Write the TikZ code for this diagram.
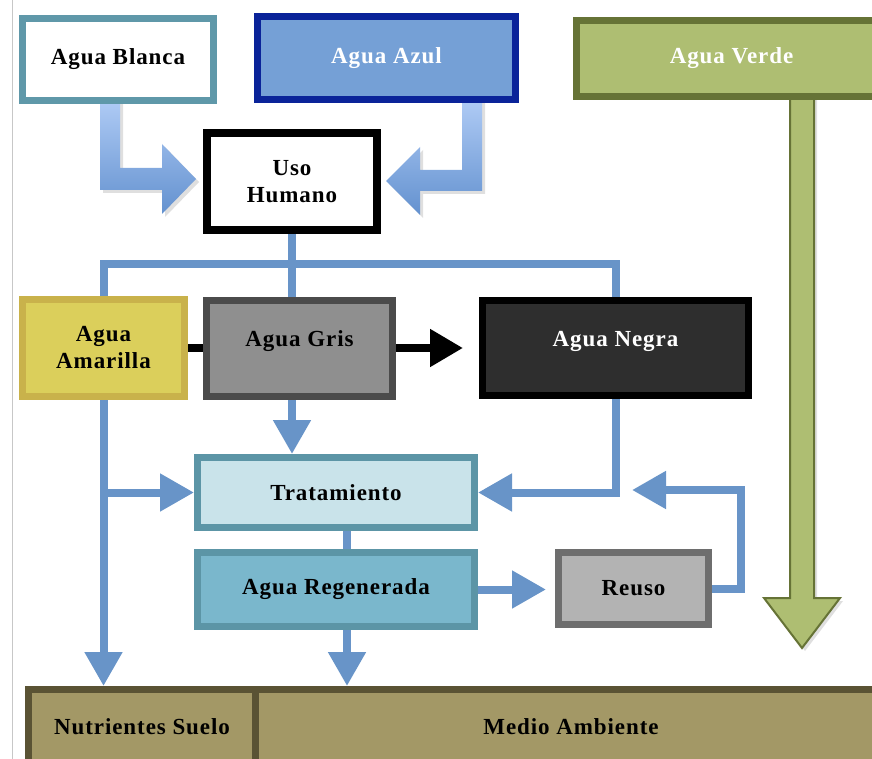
\documentclass[tikz,border=0pt]{standalone}
\usepackage{fontspec}
\setmainfont{Liberation Serif}[LetterSpace=4]
\usetikzlibrary{arrows.meta,shadows}
\pgfdeclarelayer{bg}
\pgfsetlayers{bg,main}
\definecolor{cBlancaB}{HTML}{5F98A9}
\definecolor{cAzulF}{HTML}{75A0D6}
\definecolor{cAzulB}{HTML}{0A2399}
\definecolor{cVerdeF}{HTML}{AEBE72}
\definecolor{cVerdeB}{HTML}{667336}
\definecolor{cAmaF}{HTML}{DBCF5B}
\definecolor{cAmaB}{HTML}{C9B24B}
\definecolor{cGrisF}{HTML}{8F8F8F}
\definecolor{cGrisB}{HTML}{4B4B4B}
\definecolor{cNegraF}{HTML}{2E2E2E}
\definecolor{cTratF}{HTML}{C9E3EA}
\definecolor{cTealB}{HTML}{5C95A6}
\definecolor{cRegenF}{HTML}{7AB7CC}
\definecolor{cReusoF}{HTML}{B3B3B3}
\definecolor{cReusoB}{HTML}{6E6E6E}
\definecolor{cBarF}{HTML}{A39866}
\definecolor{cBarB}{HTML}{5A5334}
\definecolor{cConn}{HTML}{6894C8}
\definecolor{cArrTop}{HTML}{AFCBF5}
\definecolor{cArrBot}{HTML}{6391CF}
\begin{document}
\begin{tikzpicture}[x=1pt,y=-1pt,
  box/.style={rectangle, inner sep=0pt, line width=7pt, align=center,
    font=\bfseries\fontsize{23}{27}\selectfont},
  conn/.style={line width=8pt, draw=cConn},
  tipb/.style={-{Triangle[width=36pt,length=34pt]}},
  softshadow/.style={drop shadow={opacity=0.25, shadow xshift=3pt, shadow yshift=-3pt}},
]
\useasboundingbox (0,0) rectangle (872,759);

% boxes
\node[box, draw=cBlancaB, fill=white, minimum width=191pt, minimum height=82pt] (blanca) at (118,59.5) {\raisebox{2pt}{Agua Blanca}};
\node[box, draw=cAzulB, fill=cAzulF, text=white, minimum width=258pt, minimum height=83pt] (azul) at (386.5,58) {Agua Azul};
\node[box, draw=cVerdeB, fill=cVerdeF, text=white, minimum width=310pt, minimum height=76pt] (verde) at (731.5,58.5) {Agua Verde};
\node[box, line width=8pt, draw=black, fill=white, minimum width=170pt, minimum height=97pt] (uso) at (292,181.5) {Uso\\Humano};
\node[box, draw=cAmaB, fill=cAmaF, minimum width=162pt, minimum height=97pt] (amarilla) at (103.5,348) {Agua\\Amarilla};
\node[box, draw=cGrisB, fill=cGrisF, minimum width=186pt, minimum height=96pt] (gris) at (299.5,348.5) {\raisebox{2.5pt}[0pt][0pt]{Agua Gris}};
\node[box, draw=black, fill=cNegraF, text=white, minimum width=266pt, minimum height=95pt] (negra) at (615.5,348) {\raisebox{2pt}[0pt][0pt]{Agua Negra}};
\node[box, draw=cTealB, fill=cTratF, minimum width=277pt, minimum height=70pt] (trat) at (336,492.5) {Tratamiento};
\node[box, draw=cTealB, fill=cRegenF, minimum width=277pt, minimum height=74pt] (regen) at (336,589.5) {Agua Regenerada};
\node[box, draw=cReusoB, fill=cReusoF, minimum width=150pt, minimum height=72pt] (reuso) at (633.5,588.5) {Reuso};
\node[box, draw=cBarB, fill=cBarF, minimum width=227pt, minimum height=75pt] (suelo) at (142,727) {Nutrientes Suelo};
\node[box, draw=cBarB, fill=cBarF, minimum width=631pt, minimum height=75pt] (medio) at (571,727) {Medio Ambiente};

\coordinate (fbc) at (741,490);
\coordinate (fbt) at (632,490);

\begin{pgfonlayer}{bg}
\fill[white] (0,0) rectangle (872,759);
\draw[line width=1pt, draw=black!22] (12,0) -- (12,759);

% block arrows into Uso Humano
\path[softshadow, top color=cArrTop, bottom color=cArrBot]
  (100,100) -- (100,190) -- (162,190) -- (162,214) -- (196,179) -- (162,144)
  -- (162,168) -- (120,168) -- (120,100) -- cycle;
\path[softshadow, top color=cArrTop, bottom color=cArrBot]
  (482,100) -- (482,191) -- (420,191) -- (420,215) -- (386,181) -- (420,147)
  -- (420,170) -- (462,170) -- (462,100) -- cycle;

% green arrow
\path[softshadow, fill=cVerdeF, draw=cVerdeB, line width=2pt]
  (790,96) -- (790,598) -- (764,598) -- (802,648) -- (840,598) -- (814,598)
  -- (814,96) -- cycle;

% connectors
\draw[conn] (uso.south) -- (uso.south |- gris.north);
\draw[conn] (amarilla.north) -- ++(0,-32) -| (negra.north);
\draw[conn,tipb] (amarilla.south) -- (amarilla.south |- suelo.north);
\draw[conn,tipb] (amarilla.south |- trat.west) -- (trat.west);
\draw[conn,tipb] (gris.south -| uso.south) -- (trat.north -| uso.south);
\draw[conn,tipb] (negra.south) |- (trat.east);
\draw[conn] ([xshift=11pt]trat.south) -- ([xshift=11pt]regen.north);
\draw[conn,tipb] ([xshift=11pt]regen.south) -- ([xshift=11pt]regen.south |- medio.north);
\draw[conn,tipb,shorten >=9pt] (regen.east) -- (regen.east -| reuso.west);
\draw[conn,tipb] (reuso.east) -| (fbc) -- (fbt);
\draw[line width=8pt, -{Triangle[width=36pt,length=33pt]}, shorten >=16pt]
  (amarilla.east) -- (amarilla.east -| negra.west);
\end{pgfonlayer}
\end{tikzpicture}
\end{document}
